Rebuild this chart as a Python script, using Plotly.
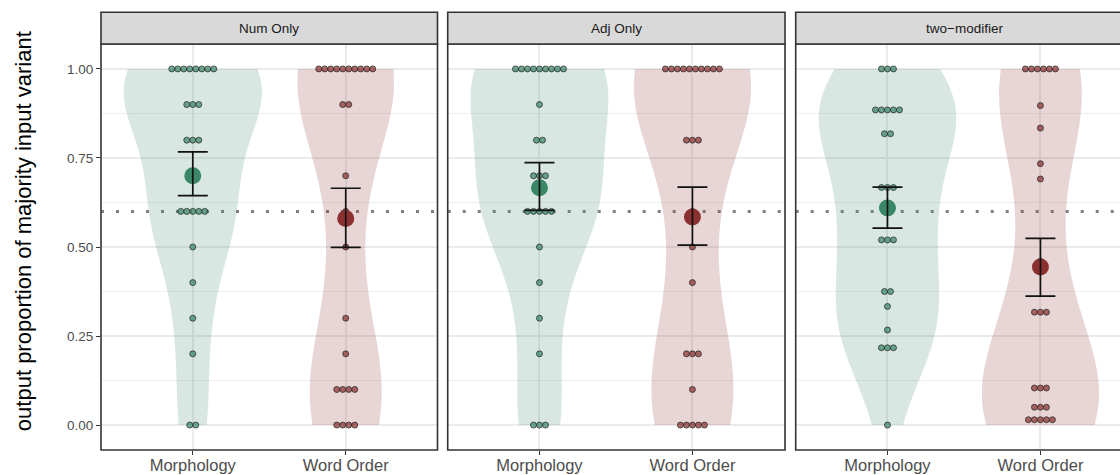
import numpy as np
import plotly.graph_objects as go

# ---------------- data ----------------
panels = ["Num Only", "Adj Only", "two\u2212modifier"]
categories = ["Morphology", "Word Order"]

num_morphology = [1.0, 1.0, 1.0, 1.0, 1.0, 1.0, 1.0, 1.0, 0.9, 0.9, 0.9, 0.8, 0.8, 0.8,
                  0.6, 0.6, 0.6, 0.6, 0.6, 0.5, 0.4, 0.3, 0.2, 0.0, 0.0]
num_word_order = [1.0, 1.0, 1.0, 1.0, 1.0, 1.0, 1.0, 1.0, 1.0, 1.0, 0.9, 0.9, 0.7, 0.6,
                  0.5, 0.3, 0.2, 0.1, 0.1, 0.1, 0.1, 0.0, 0.0, 0.0, 0.0]
adj_morphology = [1.0, 1.0, 1.0, 1.0, 1.0, 1.0, 1.0, 1.0, 1.0, 0.9, 0.8, 0.8, 0.7, 0.7,
                  0.7, 0.6, 0.6, 0.6, 0.6, 0.6, 0.5, 0.4, 0.3, 0.2, 0.0, 0.0, 0.0]
adj_word_order = [1.0, 1.0, 1.0, 1.0, 1.0, 1.0, 1.0, 1.0, 1.0, 1.0, 0.8, 0.8, 0.8, 0.6,
                  0.5, 0.4, 0.2, 0.2, 0.2, 0.1, 0.0, 0.0, 0.0, 0.0, 0.0]
two_morphology = [1.0, 1.0, 1.0, 0.885, 0.885, 0.885, 0.885, 0.885, 0.818, 0.818,
                  0.667, 0.667, 0.667, 0.52, 0.52, 0.52, 0.375, 0.375, 0.333, 0.267,
                  0.217, 0.217, 0.217, 0.0]
two_word_order = [1.0, 1.0, 1.0, 1.0, 1.0, 1.0, 0.897, 0.834, 0.734, 0.691, 0.46,
                  0.317, 0.317, 0.317, 0.104, 0.104, 0.104, 0.05, 0.05, 0.05,
                  0.03, 0.03, 0.0, 0.0, 0.0]

# interval around each condition mean: [Morphology, Word Order]
num_ci_low = [0.644, 0.499]
num_ci_high = [0.767, 0.665]
adj_ci_low = [0.603, 0.505]
adj_ci_high = [0.737, 0.668]
two_ci_low = [0.553, 0.362]
two_ci_high = [0.668, 0.524]

chance_level = 0.6

panel_data = [
    (num_morphology, num_word_order, num_ci_low, num_ci_high),
    (adj_morphology, adj_word_order, adj_ci_low, adj_ci_high),
    (two_morphology, two_word_order, two_ci_low, two_ci_high),
]

# ---------------- styling ----------------
W, H = 1120, 475
FONT = "Liberation Sans, Arial, Helvetica, sans-serif"
base_rgb = [(58, 135, 104), (138, 48, 48)]


def rgba(rgb, a):
    return "rgba(%d,%d,%d,%.3f)" % (rgb[0], rgb[1], rgb[2], a)


# panel pixel geometry (left, right); the last panel runs past the page edge
panel_px = [(101.0, 437.5), (447.7, 785.0), (795.7, 1133.0)]
panel_top, panel_bottom = 44.0, 450.0
strip_top = 12.3
x_lo, x_hi = -0.6, 1.6
y_range = [-0.07, 1.07]
px_per_unit = (panel_px[0][1] - panel_px[0][0]) / (x_hi - x_lo)
dot_px = 6.0


def nrd0(v):
    v = np.asarray(v, float)
    sd = np.std(v, ddof=1)
    q75, q25 = np.percentile(v, [75, 25])
    lo = min(sd, (q75 - q25) / 1.34)
    if lo <= 0:
        lo = sd if sd > 0 else (abs(v[0]) if v[0] != 0 else 1.0)
    return 0.9 * lo * len(v) ** (-0.2)


def dot_bins(v, binwidth):
    """dot-density binning: returns (center, count) per stack"""
    v = sorted(v)
    groups, cur, end = [], [], -np.inf
    for val in v:
        if val >= end:
            if cur:
                groups.append(cur)
            cur, end = [], val + binwidth
        cur.append(val)
    if cur:
        groups.append(cur)
    return [((min(g) + max(g)) / 2.0, len(g)) for g in groups]


fig = go.Figure()
violin_traces, dot_traces, mean_traces, err_traces = [], [], [], []

for p, (morph, word, lo, hi) in enumerate(panel_data):
    ax = "" if p == 0 else str(p + 1)
    xa, ya = "x" + ax, "y" + ax
    for c, vals in enumerate([morph, word]):
        vals = np.asarray(vals, float)
        violin_traces.append(go.Violin(
            x=[c] * len(vals), y=vals, xaxis=xa, yaxis=ya,
            bandwidth=nrd0(vals), spanmode="hard",
            scalegroup="panel%d" % p, scalemode="width",
            fillcolor=rgba(base_rgb[c], 0.2), line=dict(width=0, color=rgba(base_rgb[c], 0)),
            points=False, box_visible=False, meanline_visible=False,
            hoverinfo="skip", showlegend=False,
        ))
        # centred dot stacks
        bw = (vals.max() - vals.min()) / 30.0
        xs, ys = [], []
        step = dot_px / px_per_unit
        for centre, n in dot_bins(vals, bw):
            for j in range(n):
                xs.append(c + (j - (n - 1) / 2.0) * step)
                ys.append(centre)
        dot_traces.append(go.Scatter(
            x=xs, y=ys, xaxis=xa, yaxis=ya, mode="markers",
            marker=dict(size=dot_px, color=rgba(base_rgb[c], 0.72),
                        line=dict(color="rgba(35,35,35,0.9)", width=0.8)),
            hoverinfo="skip", showlegend=False,
        ))
        m = float(np.mean(vals))
        mean_traces.append(go.Scatter(
            x=[c], y=[m], xaxis=xa, yaxis=ya, mode="markers",
            marker=dict(size=17, color=rgba(base_rgb[c], 1.0)),
            hoverinfo="skip", showlegend=False,
        ))
        err_traces.append(go.Scatter(
            x=[c], y=[m], xaxis=xa, yaxis=ya, mode="markers",
            marker=dict(size=1, opacity=0),
            error_y=dict(type="data", symmetric=False,
                         array=[hi[c] - m], arrayminus=[m - lo[c]],
                         color="#111111", thickness=1.7, width=15),
            hoverinfo="skip", showlegend=False,
        ))

for t in violin_traces + dot_traces + mean_traces + err_traces:
    fig.add_trace(t)

ydom = [(H - panel_bottom) / H, (H - panel_top) / H]
layout = dict(
    width=W, height=H, margin=dict(l=0, r=0, t=0, b=0, autoexpand=False),
    paper_bgcolor="white", plot_bgcolor="white",
    violinmode="overlay", violingap=0.1, violingroupgap=0.0,
    font=dict(family=FONT, color="#4d4d4d"),
    showlegend=False,
)

shapes, annotations = [], []
for p in range(3):
    ax = "" if p == 0 else str(p + 1)
    left, right = panel_px[p]
    dom_right = min(right, W) / W
    xr = [x_lo, x_lo + (min(right, W) - left) / px_per_unit]
    layout["xaxis" + ax] = dict(
        domain=[left / W, dom_right], range=xr, anchor="y" + ax, automargin=False,
        tickvals=[0, 1], ticktext=categories, ticks="outside", ticklen=4,
        tickwidth=1.4, tickcolor="#333333", showgrid=True, gridcolor="#ebebeb",
        gridwidth=1.5, zeroline=False, showline=False, ticklabelstandoff=-4,
        tickfont=dict(size=16.5, color="#4d4d4d", family=FONT),
    )
    layout["yaxis" + ax] = dict(
        domain=ydom, range=y_range, anchor="x" + ax, automargin=False,
        tickvals=[0, 0.25, 0.5, 0.75, 1.0],
        ticktext=["0.00", "0.25", "0.50", "0.75", "1.00"],
        showticklabels=(p == 0), ticks="outside" if p == 0 else "",
        ticklen=4, tickwidth=1.4, tickcolor="#333333",
        showgrid=True, gridcolor="#ebebeb", gridwidth=1.5, zeroline=False,
        showline=False, tickfont=dict(size=13.5, color="#4d4d4d", family=FONT),
        minor=dict(tickvals=[0.125, 0.375, 0.625, 0.875], showgrid=True,
                   gridcolor="#efefef", gridwidth=1.0, ticks=""),
    )
    if p > 0:
        layout["yaxis" + ax]["matches"] = "y"

    # reference level
    shapes.append(dict(type="line", xref="x" + ax + " domain", yref="y" + ax,
                       x0=0, x1=1, y0=chance_level, y1=chance_level, layer="below",
                       line=dict(color="#808080", width=3, dash="3px,12px")))
    # panel border
    shapes.append(dict(type="rect", xref="paper", yref="paper",
                       x0=left / W, x1=right / W, y0=ydom[0], y1=ydom[1],
                       line=dict(color="#333333", width=1.6), fillcolor="rgba(0,0,0,0)",
                       layer="above"))
    # strip
    shapes.append(dict(type="rect", xref="paper", yref="paper",
                       x0=left / W, x1=right / W,
                       y0=(H - panel_top) / H, y1=(H - strip_top) / H,
                       line=dict(color="#333333", width=1.6), fillcolor="#d9d9d9",
                       layer="above"))
    annotations.append(dict(text=panels[p], xref="paper", yref="paper",
                            x=(left + right) / 2 / W, y=(H - (strip_top + panel_top) / 2) / H,
                            xanchor="center", yanchor="middle", showarrow=False,
                            font=dict(size=13.5, color="#1a1a1a", family=FONT)))

# y title centred on the strip + panel block
annotations.append(dict(text="output proportion of majority input variant",
                        xref="paper", yref="paper", x=23 / W,
                        y=(H - (strip_top + panel_bottom) / 2) / H,
                        xanchor="center", yanchor="middle", textangle=-90,
                        showarrow=False, font=dict(size=22, color="#000000", family=FONT)))

layout["shapes"] = shapes
layout["annotations"] = annotations
fig.update_layout(**layout)

fig.write_html("out.html")
